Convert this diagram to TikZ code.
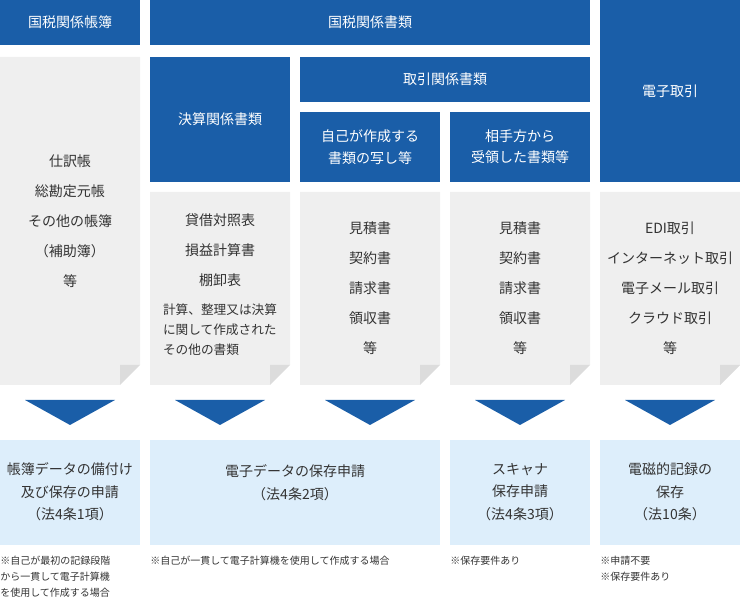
\documentclass[tikz,border=0pt]{standalone}
\usepackage{fontspec}
\setmainfont{Noto Sans CJK JP}
\begin{document}
\begin{tikzpicture}[x=0.75pt,y=-0.75pt,
  hdr/.style={fill=bl,draw=none,text=white,font=\fontsize{10.5}{14}\selectfont,align=center},
  gtxt/.style={text=tx,font=\fontsize{10.5}{22.5}\selectfont,align=center},
  ltxt/.style={text=tx,font=\fontsize{10.5}{17}\selectfont,align=center},
  note/.style={text=tx,font=\fontsize{7.5}{12}\selectfont,align=left,anchor=north west,inner sep=0pt}]
\definecolor{bl}{HTML}{1A5EA8}
\definecolor{gr}{HTML}{EFEFEF}
\definecolor{fd}{HTML}{DCDCDC}
\definecolor{lb}{HTML}{DDEEFB}
\definecolor{tx}{HTML}{333333}
\useasboundingbox (0,0) rectangle (740,605);
% headers
\fill[bl] (0,0) rectangle (140,45); \node[hdr] (h1) at (70,22.5) {国税関係帳簿};
\fill[bl] (150,0) rectangle (590,45); \node[hdr] (h2) at (370,22.5) {国税関係書類};
\fill[bl] (600,0) rectangle (740,182); \node[hdr] (h5) at (670,91) {電子取引};
\fill[bl] (150,57) rectangle (290,182); \node[hdr] (h3) at (220,119.5) {決算関係書類};
\fill[bl] (300,57) rectangle (590,102); \node[hdr] (h4) at (445,79.5) {取引関係書類};
\fill[bl] (300,112) rectangle (440,182); \node[hdr] (h41) at (370,147) {自己が作成する\\[2pt]書類の写し等};
\fill[bl] (450,112) rectangle (590,182); \node[hdr] (h42) at (520,147) {相手方から\\[2pt]受領した書類等};
% gray boxes with fold
\foreach \xa/\ya in {0/57,150/192,300/192,450/192,600/192}{
  \fill[gr] (\xa,\ya) -- (\xa+140,\ya) -- (\xa+140,365) -- (\xa+120,385) -- (\xa,385) -- cycle;
  \fill[fd] (\xa+120,365) -- (\xa+140,365) -- (\xa+120,385) -- cycle;
  \fill[bl] (\xa+25,400) -- (\xa+115,400) -- (\xa+70,425) -- cycle;
}
\node[gtxt] (g1) at (70,221) {仕訳帳\\総勘定元帳\\その他の帳簿\\（補助簿）\\等};
\node[gtxt] (g2) at (220,250) {貸借対照表\\損益計算書\\棚卸表};
\node[text=tx,font=\fontsize{9.5}{15}\selectfont,align=left] (g2b) at (220,330) {計算、整理又は決算\\に関して作成された\\その他の書類};
\node[gtxt] (g3) at (370,288) {見積書\\契約書\\請求書\\領収書\\等};
\node[gtxt] (g4) at (520,288) {見積書\\契約書\\請求書\\領収書\\等};
\node[gtxt] (g5) at (670,288) {EDI取引\\インターネット取引\\電子メール取引\\クラウド取引\\等};
% light boxes
\fill[lb] (0,440) rectangle (140,545); \node[ltxt] (l1) at (70,492) {帳簿データの備付け\\及び保存の申請\\（法4条1項）};
\fill[lb] (150,440) rectangle (440,545); \node[ltxt] (l2) at (295,483) {電子データの保存申請\\（法4条2項）};
\fill[lb] (450,440) rectangle (590,545); \node[ltxt] (l3) at (520,492) {スキャナ\\保存申請\\（法4条3項）};
\fill[lb] (600,440) rectangle (740,545); \node[ltxt] (l4) at (670,492) {電磁的記録の\\保存\\（法10条）};
% notes
\node[note] (n1) at (0,556) {※自己が最初の記録段階\\から一貫して電子計算機\\を使用して作成する場合};
\node[note] (n2) at (150,556) {※自己が一貫して電子計算機を使用して作成する場合};
\node[note] (n3) at (450,556) {※保存要件あり};
\node[note] (n4) at (600,556) {※申請不要\\※保存要件あり};
\end{tikzpicture}
\end{document}
